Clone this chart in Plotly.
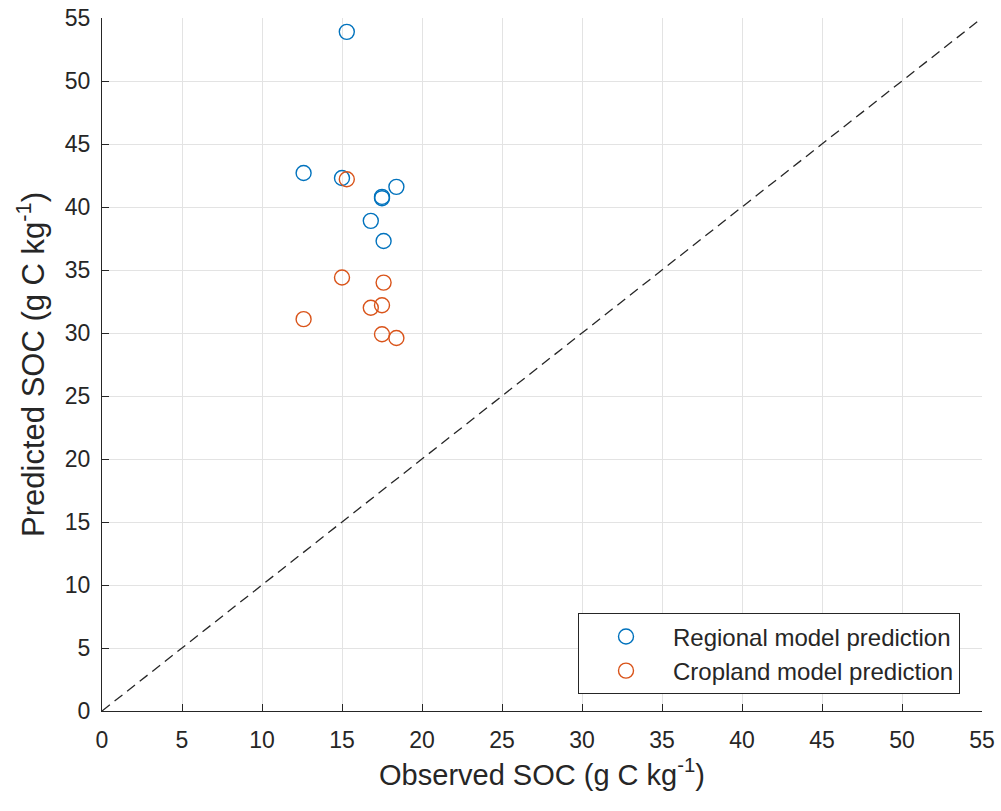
import plotly.graph_objects as go

observed = [15.3, 12.6, 15.0, 18.4, 17.5, 17.5, 16.8, 17.6]
regional_pred = [53.9, 42.7, 42.3, 41.6, 40.7, 40.8, 38.9, 37.3]
cropland_pred = [42.2, 31.1, 34.4, 29.6, 32.2, 29.9, 32.0, 34.0]
line_1to1 = [0, 55]
ticks = list(range(0, 56, 5))

BLUE = "#0072BD"
ORANGE = "#D95319"
AX = "#262626"
FONT = "Liberation Sans, Arial, Helvetica, sans-serif"

fig = go.Figure()
fig.add_trace(go.Scatter(x=line_1to1, y=line_1to1, mode="lines",
                         line=dict(color=AX, width=1.3, dash="10px,6px"),
                         showlegend=False, hoverinfo="skip"))
fig.add_trace(go.Scatter(x=observed, y=regional_pred, mode="markers",
                         name="Regional model prediction",
                         marker=dict(symbol="circle-open", size=15,
                                     color=BLUE, line=dict(width=1.4, color=BLUE))))
fig.add_trace(go.Scatter(x=observed, y=cropland_pred, mode="markers",
                         name="Cropland model prediction",
                         marker=dict(symbol="circle-open", size=15,
                                     color=ORANGE, line=dict(width=1.4, color=ORANGE))))

axis_common = dict(
    range=[0, 55], tickvals=ticks, ticktext=[str(t) for t in ticks],
    showgrid=True, gridcolor="#e3e3e3", gridwidth=1,
    zeroline=False, showline=True, linecolor=AX, linewidth=1.2,
    ticks="inside", ticklen=7, tickcolor=AX, tickwidth=1,
    tickfont=dict(family=FONT, size=23, color=AX),
    automargin=False, ticklabeloverflow="allow",
)

fig.update_layout(
    width=1001, height=811,
    margin=dict(l=102, r=19, t=18, b=100),
    plot_bgcolor="white", paper_bgcolor="white",
    font=dict(family=FONT, color=AX),
    xaxis=dict(**axis_common, ticklabelstandoff=8,
               title=dict(text="Observed SOC (g C kg<sup>-1</sup>)",
                          font=dict(family=FONT, size=29, color=AX), standoff=12)),
    yaxis=dict(**axis_common, ticklabelstandoff=6,
               title=dict(text="Predicted SOC (g C kg<sup>-1</sup>)",
                          font=dict(family=FONT, size=31, color=AX), standoff=10)),
    legend=dict(x=0.975, y=0.024, xanchor="right", yanchor="bottom",
                bgcolor="white", bordercolor=AX, borderwidth=1,
                font=dict(family=FONT, size=24, color=AX),
                itemwidth=84, tracegroupgap=0),
)

fig.write_html("out.html", config={"displayModeBar": False},
               post_script="document.body.style.margin='0';document.body.style.overflow='hidden';")
